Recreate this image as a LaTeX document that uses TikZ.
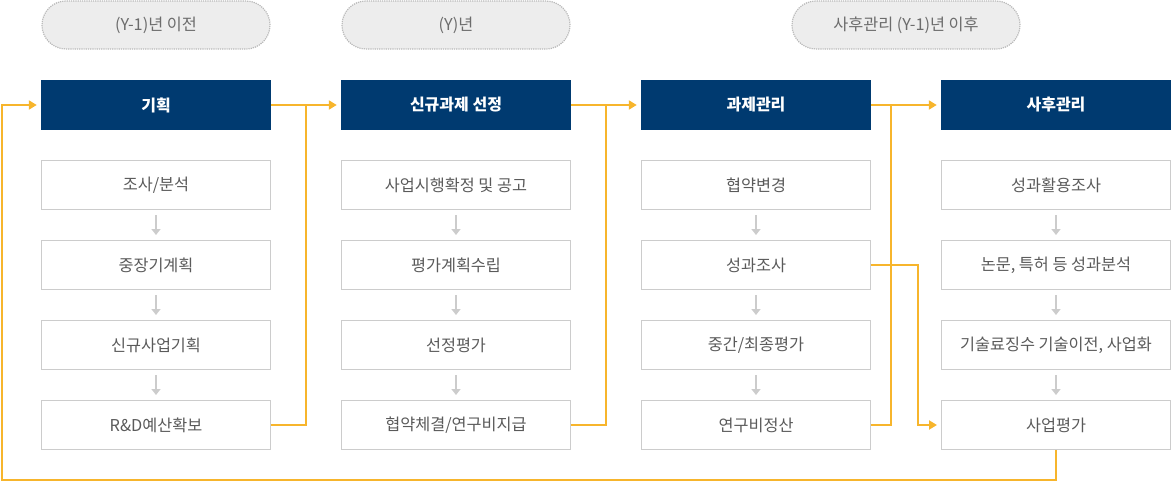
\documentclass[tikz,border=0pt]{standalone}
\usepackage{fontspec}
\setmainfont{Noto Sans CJK KR}
\usetikzlibrary{arrows.meta}
\definecolor{navy}{HTML}{003A70}
\definecolor{gold}{HTML}{F7B52C}
\definecolor{boxline}{HTML}{CCCCCC}
\definecolor{txt}{HTML}{5A5A5A}
\tikzset{
  head/.style={fill=navy, text=white, font=\bfseries\fontsize{16}{19}\selectfont, minimum width=230pt, minimum height=50pt, inner sep=0pt},
  sub/.style={draw=boxline, line width=1.2pt, text=txt, font=\fontsize{16.3}{19}\selectfont, minimum width=228.8pt, minimum height=48.8pt, inner sep=0pt},
  era/.style={fill=gray!14, draw=gray!55, densely dotted, line width=1.2pt, rounded corners=24pt, text=gray!85!black, font=\fontsize{16.3}{19}\selectfont, minimum width=228pt, minimum height=48pt, inner sep=0pt},
  flow/.style={gold, line width=2pt, -{Triangle[length=8pt,width=9pt]}, shorten >=4pt},
  link/.style={gold, line width=2pt},
  down/.style={boxline, line width=1.5pt, -{Triangle[length=6pt,width=9pt]}, shorten >=5pt, shorten <=5pt}
}
\begin{document}
\begin{tikzpicture}[x=1pt,y=-1pt]
  \useasboundingbox (0,0) rectangle (1171,482);
  \node [era] (eraA) at (156,25) {(Y-1)년 이전};
  \node [era] (eraB) at (456,25) {(Y)년};
  \node [era] (eraC) at (906,25) {사후관리 (Y-1)년 이후};
  \node [head] (plan) at (156,105) {기획};
  \node [head] (pick) at (456,105) {신규과제 선정};
  \node [head] (mgmt) at (756,105) {과제관리};
  \node [head] (post) at (1056,105) {사후관리};
  \node [sub] (p1) at (156,185) {조사/분석};
  \node [sub] (p2) at (156,265) {중장기계획};
  \node [sub] (p3) at (156,345) {신규사업기획};
  \node [sub] (p4) at (156,425) {R\&D예산확보};
  \node [sub] (s1) at (456,185) {사업시행확정 및 공고};
  \node [sub] (s2) at (456,265) {평가계획수립};
  \node [sub] (s3) at (456,345) {선정평가};
  \node [sub] (s4) at (456,425) {협약체결/연구비지급};
  \node [sub] (m1) at (756,185) {협약변경};
  \node [sub] (m2) at (756,265) {성과조사};
  \node [sub] (m3) at (756,345) {중간/최종평가};
  \node [sub] (m4) at (756,425) {연구비정산};
  \node [sub] (a1) at (1056,185) {성과활용조사};
  \node [sub] (a2) at (1056,265) {논문, 특허 등 성과분석};
  \node [sub] (a3) at (1056,345) {기술료징수 기술이전, 사업화};
  \node [sub] (a4) at (1056,425) {사업평가};
  \foreach \c in {p,s,m,a}
    \foreach \i/\j in {1/2,2/3,3/4}
      \draw [down] (\c\i.south) -- (\c\j.north);
  \coordinate (jA) at (306,105);
  \coordinate (jB) at (606,105);
  \coordinate (jC) at (891,105);
  \coordinate (jD) at (918,265);
  \coordinate (loopR) at (1056,480);
  \coordinate (loopL) at (2,480);
  \draw [link] (p4.east) -| (jA);
  \draw [link] (s4.east) -| (jB);
  \draw [link] (m4.east) -| (jC);
  \draw [flow] (plan.east) -- (pick.west);
  \draw [flow] (pick.east) -- (mgmt.west);
  \draw [flow] (mgmt.east) -- (post.west);
  \draw [flow] (m2.east) -- (jD) |- (a4.west);
  \draw [flow] (a4.south) -- (loopR) -- (loopL) |- (plan.west);
\end{tikzpicture}
\end{document}
